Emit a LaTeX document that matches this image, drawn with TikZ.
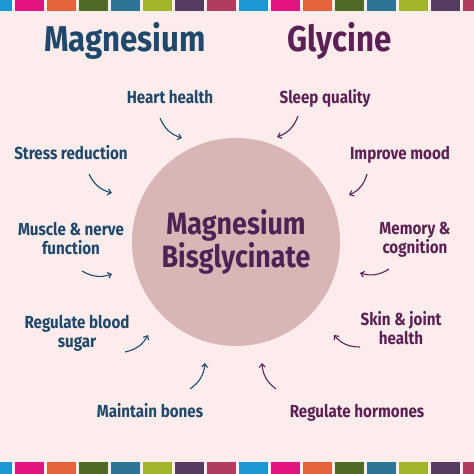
\documentclass[tikz,border=0pt]{standalone}
\usepackage{fontspec}
\setmainfont{Fira Sans}
\newfontfamily\narrowfont[FakeStretch=0.87]{Fira Sans}
\usepackage{tikz}
\usetikzlibrary{arrows.meta,positioning}

\definecolor{bgpink}{HTML}{FCECEC}
\definecolor{discpink}{HTML}{D9B5B5}
\definecolor{mgblue}{HTML}{1F486B}
\definecolor{glypurple}{HTML}{5C2154}
\definecolor{midpurple}{HTML}{4B2455}
\definecolor{s0}{HTML}{1E98D5}
\definecolor{s1}{HTML}{E3137F}
\definecolor{s2}{HTML}{E6623B}
\definecolor{s3}{HTML}{4E6A27}
\definecolor{s4}{HTML}{2D7595}
\definecolor{s5}{HTML}{A3B52A}
\definecolor{s6}{HTML}{553C60}
\definecolor{s7}{HTML}{B13D5E}

\tikzset{
  mgl/.style={text=mgblue, font=\narrowfont\bfseries\fontsize{17.5}{20}\selectfont, align=center, anchor=base},
  gll/.style={text=glypurple, font=\narrowfont\bfseries\fontsize{17.5}{20}\selectfont, align=center, anchor=base},
  ttl/.style={font=\narrowfont\bfseries\fontsize{36}{40}\selectfont, anchor=base},
  marr/.style={draw=mgblue, line width=1.1pt, -{Straight Barb[length=3.5pt,width=6pt]}, bend right=25},
  garr/.style={draw=glypurple, line width=1.1pt, -{Straight Barb[length=3.5pt,width=6pt]}, bend left=25},
}

\begin{document}
\begin{tikzpicture}[x=1bp,y=1bp]
      \useasboundingbox (0,0) rectangle (474,474);
      \fill[bgpink] (0,0) rectangle (474,474);
      \foreach \k in {0,...,15}{
        \pgfmathtruncatemacro{\c}{mod(\k,8)}
        \fill[s\c] (-17.3+32*\k,463) rectangle ++(29,11);
        \fill[s\c] (-17.3+32*\k,0) rectangle ++(29,12);
      }
      \node[ttl, text=mgblue] (mg) at (125,422) {Magnesium};
      \node[ttl, text=glypurple] (gly) at (339.5,422) {Glycine};
      \node[circle, fill=discpink, minimum size=208bp, inner sep=0pt] (disc) at (236,232) {};
      \node[text=midpurple, font=\narrowfont\bfseries\fontsize{31}{30}\selectfont, align=center] (mb) at (disc.center) {Magnesium\\Bisglycinate};
      \node[mgl] (heart) at (170,370) {Heart health};
      \node[mgl] (stress) at (71,314) {Stress reduction};
      \node[mgl] (muscle) at (71,219) {Muscle \& nerve\\function};
      \node[mgl] (blood) at (77,126) {Regulate blood\\sugar};
      \node[mgl] (bones) at (150,56) {Maintain bones};
      \node[gll] (sleep) at (325,370) {Sleep quality};
      \node[gll] (mood) at (400,314) {Improve mood};
      \node[gll] (memory) at (415,220) {Memory \&\\cognition};
      \node[gll] (skin) at (401,129) {Skin \& joint\\health};
      \node[gll] (hormones) at (357,56) {Regulate hormones};
      \coordinate (heart0) at (160,356);  \coordinate (heart1) at (182,336);
      \coordinate (stress0) at (89,300);  \coordinate (stress1) at (112,281);
      \coordinate (muscle0) at (82,203);  \coordinate (muscle1) at (112,200);
      \coordinate (blood0) at (125,122);  \coordinate (blood1) at (148,139);
      \coordinate (bones0) at (190,85);   \coordinate (bones1) at (205,111);
      \coordinate (sleep0) at (298,358);  \coordinate (sleep1) at (277,337);
      \coordinate (mood0) at (367,300);   \coordinate (mood1) at (349,279);
      \coordinate (memory0) at (389,205); \coordinate (memory1) at (360,201);
      \coordinate (skin0) at (360,127);   \coordinate (skin1) at (334,139);
      \coordinate (hormones0) at (276,85); \coordinate (hormones1) at (262,111);
      \foreach \a in {heart,stress,muscle,blood,bones}
        \draw[marr] (\a0) to (\a1);
      \foreach \a in {sleep,mood,memory,skin,hormones}
        \draw[garr] (\a0) to (\a1);
\end{tikzpicture}
\end{document}
